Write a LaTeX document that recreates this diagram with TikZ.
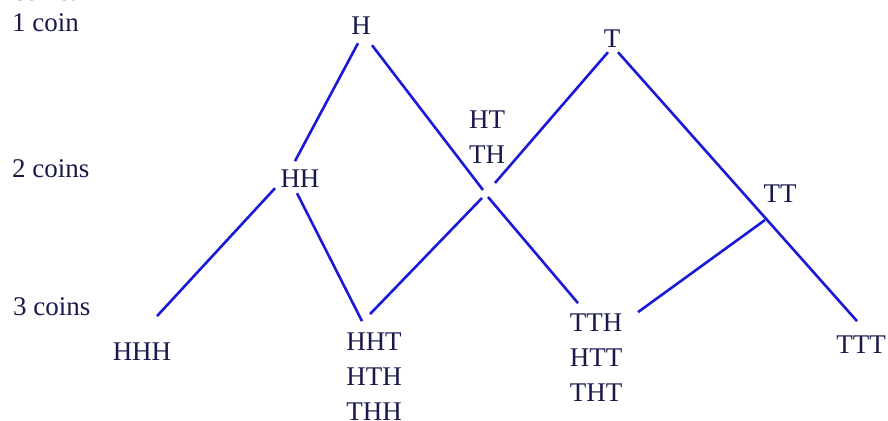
\documentclass[tikz,border=0pt]{standalone}
\usepackage{fontspec}
\setmainfont{Liberation Serif}
\usetikzlibrary{calc}
\definecolor{lineblue}{RGB}{25,25,215}
\definecolor{txt}{RGB}{25,25,75}
\begin{document}
\begin{tikzpicture}[x=1pt,y=-1pt,
  lbl/.style={inner sep=0pt,text=txt,font=\fontsize{27}{35}\selectfont,align=center,anchor=base},
  rowlbl/.style={inner sep=0pt,text=txt,font=\fontsize{27}{34}\selectfont,anchor=base west},
  edge/.style={draw=lineblue,line width=2.6pt}]
\useasboundingbox (0,0) rectangle (888,420);
% row labels
\node[rowlbl] (top) at (13,1) {coins.};
\node[rowlbl] (r1) at (12,32) {1 coin};
\node[rowlbl] (r2) at (12,177) {2 coins};
\node[rowlbl] (r3) at (13,315) {3 coins};
% tree nodes (base = baseline of the last line)
\node[lbl] (H) at (361,35) {H};
\node[lbl] (T) at (612,48) {T};
\node[lbl] (HT) at (487,163) {HT\\TH};
\node[lbl] (HH) at (300,187) {HH};
\node[lbl] (TT) at (780,202) {TT};
\node[lbl] (HHH) at (142,360) {HHH};
\node[lbl] (HHT) at (374,420) {HHT\\HTH\\THH};
\node[lbl] (TTH) at (596,401) {TTH\\HTT\\THT};
\node[lbl] (TTT) at (861,353) {TTT};
% junction points
\coordinate (J) at (486,193.5);
\coordinate (K) at (765,220);
% connectors
\draw[edge] ($(H.south)+(-3,8)$) -- ($(HH.north)+(-5,-8)$);
\draw[edge] ($(H.south)+(11,10)$) -- ($(J)+(-3,-3.5)$);
\draw[edge] ($(J)+(2,3.5)$) -- ($(TTH.north)+(-18,-10)$);
\draw[edge] ($(T.south)+(-4,4)$) -- ($(J)+(9,-10.5)$);
\draw[edge] ($(J)+(-4,4.5)$) -- ($(HHT.north)+(-4,-18)$);
\draw[edge] ($(T.south)+(6,4)$) -- ($(TTT.north)+(-4,-14)$);
\draw[edge] (K) -- ($(TTH.north)+(42,-1)$);
\draw[edge] ($(HH.south)+(-25,1)$) -- ($(HHH.north)+(15,-26)$);
\draw[edge] ($(HH.south)+(-3,6)$) -- ($(HHT.north)+(-12,-11)$);
\end{tikzpicture}
\end{document}
